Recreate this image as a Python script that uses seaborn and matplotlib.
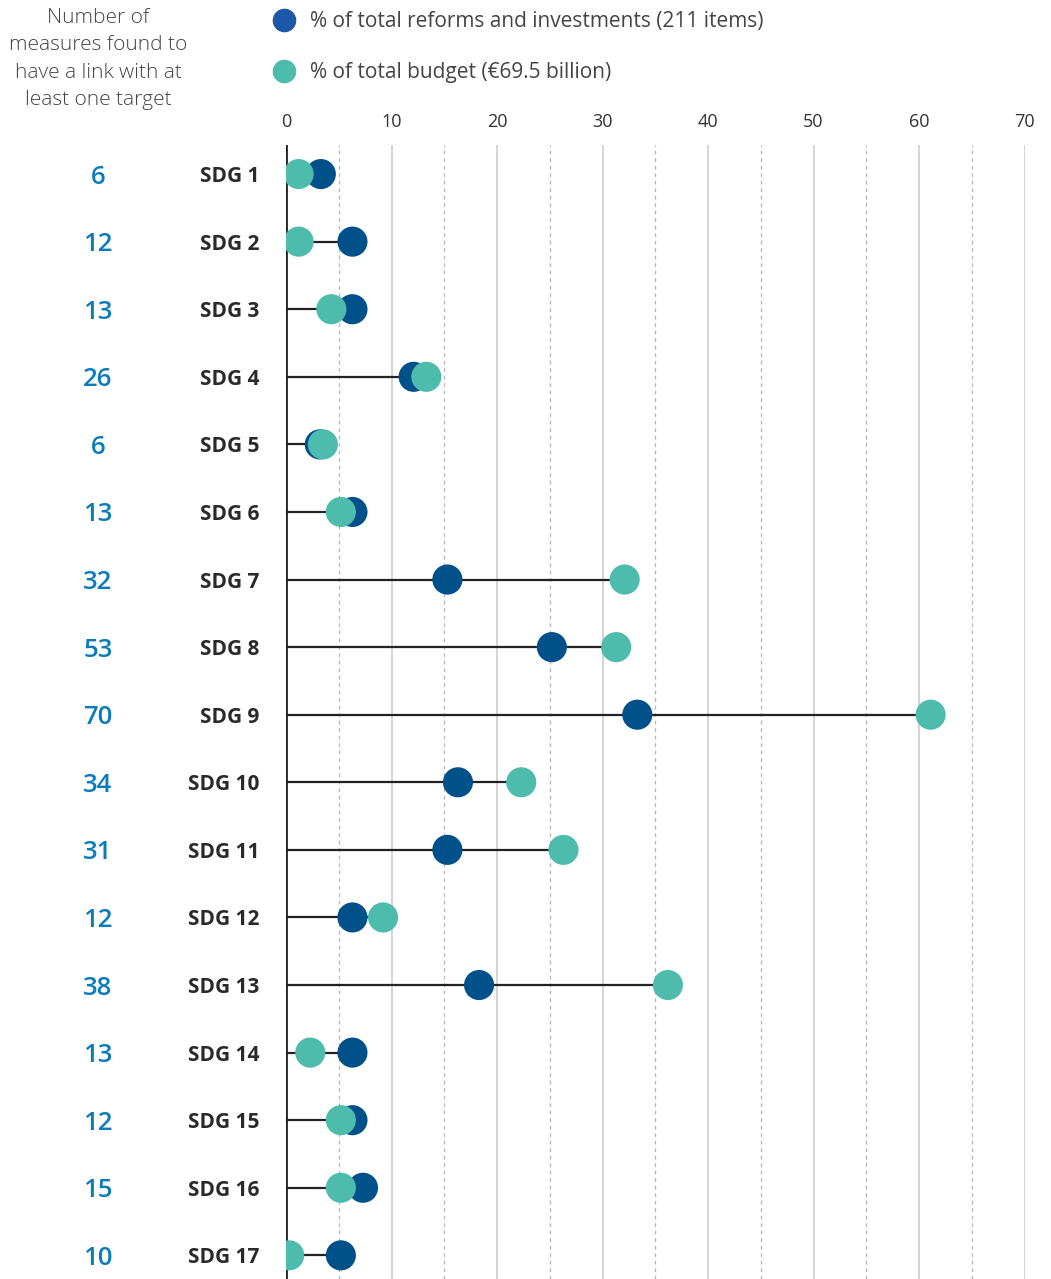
import pandas as pd
import matplotlib
matplotlib.use('Agg')
import matplotlib.pyplot as plt
import matplotlib.transforms as mtransforms
from matplotlib.lines import Line2D
import seaborn as sns

sns.set_style('white')
plt.rcParams['font.family'] = ['Open Sans', 'DejaVu Sans']

# data
goals = ['SDG %d' % i for i in range(1, 18)]
counts = [6, 12, 13, 26, 6, 13, 32, 53, 70, 34, 31, 12, 38, 13, 12, 15, 10]
pct_items = [3.3, 6.3, 6.3, 12.1, 3.2, 6.3, 15.3, 25.2, 33.3, 16.3, 15.3, 6.3, 18.3, 6.3, 6.3, 7.3, 5.2]
pct_budget = [1.2, 1.2, 4.3, 13.3, 3.5, 5.2, 32.1, 31.3, 61.1, 22.3, 26.3, 9.2, 36.2, 2.3, 5.2, 5.2, 0.3]

lab_items = '% of total reforms and investments (211 items)'
lab_budget = '% of total budget (€69.5 billion)'

c_items = '#00508a'
c_items_leg = '#1c57a8'
c_budget = '#4dbcad'
c_count = '#0a7cbd'

df = pd.DataFrame({'goal': goals, 'items': pct_items, 'budget': pct_budget})
df['row'] = range(len(goals))
long = df.melt(id_vars=['goal', 'row'], value_vars=['items', 'budget'],
               var_name='series', value_name='pct')

W, H = 1051, 1279
fig = plt.figure(figsize=(W / 100, H / 100), dpi=100)
ax = fig.add_axes([286 / W, 0, 738.5 / W, (H - 145) / H])

# grid: solid every 10, dashed at the 5s
for v in range(10, 71, 10):
    ax.axvline(v, color='#c9c9c9', lw=1.1, zorder=0)
for v in range(5, 70, 10):
    ax.axvline(v, color='#b5b5b5', lw=0.9, ls=(0, (3, 3)), zorder=0)
ax.axvline(0, color='#222222', lw=2, zorder=1)

# stems from 0 to the larger value
ax.hlines(df['row'], 0, df[['items', 'budget']].max(axis=1),
          color='#222222', lw=1.6, zorder=1)

sns.scatterplot(data=long, x='pct', y='row', hue='series',
                palette={'items': c_items, 'budget': c_budget},
                s=470, linewidth=0, legend=False, ax=ax, zorder=3)

ax.set_xlim(0, 70)
ax.set_ylim(16.35, -0.43)
ax.set_xlabel('')
ax.set_ylabel('')
ax.xaxis.tick_top()
ax.set_xticks(range(0, 71, 10))
ax.tick_params(axis='x', length=0, pad=10, labelsize=13, labelcolor='#333333')
ax.set_yticks(df['row'])
ax.set_yticklabels(goals, fontsize=15, fontweight='bold', color='#2a2a2a')
ax.tick_params(axis='y', length=0, pad=19)
for s in ax.spines.values():
    s.set_visible(False)

trans = mtransforms.blended_transform_factory(ax.transAxes, ax.transData)
for r, n in zip(df['row'], counts):
    ax.text(-0.2546, r, str(n), transform=trans, ha='center',
            va='center_baseline', fontsize=18.5, fontweight='semibold',
            color=c_count)

fig.text(98 / W, 1 - 59 / H,
         'Number of\nmeasures found to\nhave a link with at\nleast one target',
         ha='center', va='center', fontsize=15, fontweight='light',
         color='#444444', linespacing=1.5)

handles = [Line2D([], [], ls='', marker='o', ms=17, mew=0, color=c_items_leg),
           Line2D([], [], ls='', marker='o', ms=17, mew=0, color=c_budget)]
fig.legend(handles, [lab_items, lab_budget], loc='upper left',
           bbox_to_anchor=(274 / W, 1 - 11 / H), frameon=False,
           fontsize=15, labelcolor='#444444', handlelength=1.0,
           handletextpad=0.75, labelspacing=1.45, borderpad=0, borderaxespad=0)

fig.savefig('out.png', dpi=100)
